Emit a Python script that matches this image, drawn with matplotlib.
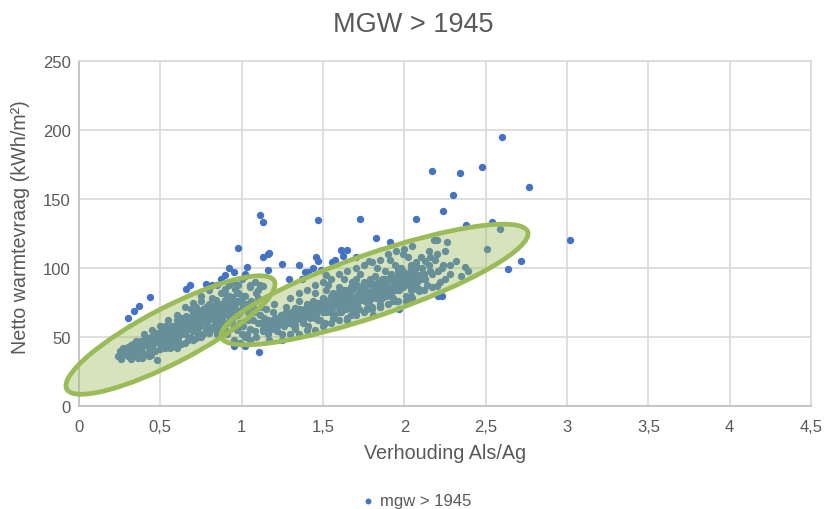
import matplotlib
matplotlib.use('Agg')
import matplotlib.pyplot as plt
from matplotlib.patches import Ellipse
from matplotlib.transforms import Affine2D

plt.rcParams['font.family'] = ['Liberation Sans', 'DejaVu Sans']

# points outside / on the edge of the dense band
outer_x = [2.60, 2.17, 2.34, 2.48, 2.765, 2.30, 2.24, 2.07, 1.73, 1.47, 1.11, 1.13,
           2.38, 2.54, 1.825, 3.02, 2.72, 2.635, 2.51, 2.59, 1.91, 0.98, 1.13, 1.16,
           1.17, 1.25, 1.35, 1.46, 1.47, 1.61, 1.65, 1.62, 1.575, 1.555, 1.16, 1.29,
           0.92, 1.03, 0.95, 1.02, 1.39, 1.41, 1.44, 1.49, 1.105, 2.23, 2.21, 0.436,
           0.37, 0.34, 0.30, 0.68, 0.66, 0.78, 0.90, 0.87, 1.02, 0.95, 1.02, 0.99,
           1.37, 1.52, 1.78, 1.70]
outer_y = [195, 170, 169, 173, 159, 153, 141, 135.5, 135.5, 135, 138.5, 133.5,
           131, 133, 122, 120, 105, 99, 114, 128, 119, 114.5, 108, 110,
           111, 103, 102, 108, 105, 113, 113, 109, 106, 104, 98.6, 92,
           100, 101, 97, 95.6, 97, 97, 100, 98.6, 39, 80, 80, 79,
           72.5, 69, 64, 88, 85, 88.6, 95, 92, 94, 43.5, 43.5, 46,
           92, 95, 105, 108]

# left band
band1_x = [.24, .25, .26, .27, .28, .29, .30, .31, .32, .33, .34, .35,
           .36, .37, .38, .39, .40, .41, .42, .43, .44, .45, .46, .47,
           .48, .49, .50, .51, .52, .53, .54, .55, .56, .57, .58, .59,
           .60, .61, .62, .63, .64, .65, .66, .67, .68, .69, .70, .71,
           .72, .73, .74, .75, .76, .77, .78, .79, .80, .81, .82, .83,
           .84, .85, .86, .87, .88, .89, .90, .91, .92, .93, .94, .95,
           .96, .97, .98, .99, 1.00, 1.01, 1.02, 1.03, 1.04, 1.05, 1.07, 1.09,
           .31, .33, .35, .37, .39, .41, .43, .45, .47, .49, .51, .53,
           .55, .57, .59, .61, .63, .65, .67, .69, .71, .73, .75, .77,
           .79, .81, .83, .85, .87, .89, .91, .93, .95, .97, .99, 1.01,
           .50, .52, .54, .56, .58, .60, .62, .64, .66, .68, .70, .72,
           .74, .76, .78, .80, .82, .84, .86, .88, .90, .92, .94, .96,
           .98, 1.00, 1.02, 1.04, 1.06, 1.08, 1.10, 1.12, 1.13, 1.15, 1.11, 1.14,
           .46, .53, .57, .60, .63, .66, .69, .72, .75, .78, .81, .84,
           .30, .32, .34, .36, .38, .40, .42, .44, .46, .48, .50, .52,
           .54, .56, .58, .60, .62, .64, .66, .68, .70, .72, .74, .76,
           .78, .80, .82, .84, .86, .88, .90, .92, .94, .96, .98, 1.00,
           .30, .32, .34, .36, .38, .40, .42, .44, .46, .48, .50, .52,
           .54, .56, .58, .60, .62, .64, .66, .68, .70, .72, .74, .76,
           .78, .80, .82, .84, .86, .88, .90, .92, .94, .96, .98, 1.00,
           .43, .45, .47, .49, .51, .53, .55, .57, .59, .61, .63, .65,
           .67, .69, .71, .73, .75, .77, .79, .81, .83, .85, .87, .89,
           .55, .60, .65, .70, .75, .80, .85, .90, .95, 1.00, .70, .75,
           .80, .85, .90, .95, 1.00, 1.05, 1.10, 1.05, 1.10, .60, .50, .45,
           .40, .65, .82, .92, .97, 1.08]
band1_y = [36, 40, 34, 42, 38, 39, 36, 41, 34, 45, 38, 43,
           35, 40, 47, 35, 44, 38, 49, 42, 37, 46, 52, 40,
           33, 50, 41, 43, 55, 47, 44, 52, 42, 58, 48, 46,
           62, 50, 55, 45, 60, 52, 65, 48, 58, 70, 54, 62,
           49, 66, 57, 76, 52, 63, 72, 58, 68, 56, 78, 62,
           72, 54, 66, 82, 60, 75, 68, 52, 80, 64, 72, 58,
           85, 66, 76, 60, 70, 80, 50, 74, 62, 86, 72, 82,
           42, 37, 47, 43, 39, 47, 36, 42, 50, 46, 48, 42,
           47, 50, 54, 47, 52, 58, 56, 62, 58, 53, 62, 67,
           62, 71, 58, 63, 70, 66, 60, 75, 65, 55, 68, 74,
           52, 48, 56, 50, 53, 44, 58, 53, 60, 50, 67, 57,
           68, 60, 56, 74, 67, 77, 58, 66, 85, 70, 78, 68,
           88, 58, 80, 68, 76, 90, 84, 72, 87, 78, 88, 64,
           48, 58, 45, 58, 64, 58, 61, 72, 66, 70, 64, 74,
           43, 40, 45, 41, 47, 44, 49, 45, 51, 47, 53, 49,
           55, 52, 58, 54, 60, 56, 63, 58, 65, 60, 67, 63,
           70, 64, 72, 66, 74, 68, 77, 70, 79, 73, 82, 75,
           38, 44, 39, 46, 42, 48, 44, 50, 46, 53, 48, 55,
           50, 57, 52, 59, 54, 62, 57, 64, 59, 67, 61, 70,
           62, 72, 65, 60, 70, 63, 73, 66, 62, 76, 69, 78,
           46, 49, 47, 51, 49, 53, 51, 55, 56, 58, 57, 60,
           60, 63, 62, 65, 64, 68, 67, 70, 69, 72, 71, 74,
           62, 66, 72, 75, 80, 84, 88, 82, 90, 92, 48, 50,
           53, 52, 55, 48, 52, 56, 60, 88, 78, 42, 58, 55,
           52, 46, 88, 88, 82, 68]

# right band
band2_x = [1.01, 1.03, 1.05, 1.07, 1.09, 1.11, 1.13, 1.15, 1.17, 1.19, 1.21, 1.23,
           1.25, 1.27, 1.29, 1.31, 1.33, 1.35, 1.37, 1.39, 1.41, 1.43, 1.45, 1.47,
           1.49, 1.51, 1.53, 1.55, 1.57, 1.59, 1.61, 1.63, 1.65, 1.67, 1.69, 1.71,
           1.73, 1.75, 1.77, 1.79, 1.81, 1.83, 1.85, 1.87, 1.89, 1.91, 1.93, 1.95,
           1.97, 1.99, 2.01, 2.03, 2.05, 2.07, 2.09, 2.11, 2.13, 2.15, 2.17, 2.19,
           1.08, 1.12, 1.16, 1.20, 1.22, 1.24, 1.26, 1.28, 1.30, 1.32, 1.34, 1.36,
           1.38, 1.40, 1.42, 1.44, 1.46, 1.48, 1.50, 1.52, 1.54, 1.56, 1.58, 1.60,
           1.62, 1.64, 1.66, 1.68, 1.70, 1.72, 1.74, 1.76, 1.78, 1.80, 1.82, 1.84,
           1.86, 1.88, 1.90, 1.92, 1.94, 1.96, 1.98, 2.00, 2.02, 2.04, 2.06, 2.08,
           1.18, 1.21, 1.24, 1.27, 1.30, 1.33, 1.36, 1.39, 1.42, 1.45, 1.48, 1.51,
           1.54, 1.57, 1.60, 1.63, 1.66, 1.69, 1.72, 1.75, 1.78, 1.81, 1.84, 1.87,
           1.90, 1.93, 1.96, 1.99, 2.02, 2.05, 2.08, 2.11, 2.14, 2.17, 2.20, 2.23,
           1.20, 1.25, 1.30, 1.35, 1.38, 1.41, 1.44, 1.47, 1.50, 1.53, 1.56, 1.59,
           1.62, 1.65, 1.68, 1.71, 1.74, 1.77, 1.80, 1.83, 1.86, 1.89, 1.92, 1.95,
           1.98, 2.01, 2.04, 2.07, 2.10, 2.13, 2.16, 2.18, 2.20, 2.22, 2.24, 2.26,
           1.52, 1.56, 1.60, 1.64, 1.68, 1.72, 1.76, 1.80, 1.84, 1.88, 1.92, 1.96,
           2.00, 2.04, 2.08, 2.12, 2.16, 2.21, 2.25, 2.28, 2.32, 2.35, 2.37, 2.39,
           1.14, 1.16, 1.18, 1.20, 1.22, 1.24, 1.26, 1.28, 1.30, 1.32, 1.34, 1.36,
           1.38, 1.40, 1.42, 1.44, 1.46, 1.48, 1.50, 1.52, 1.54, 1.56, 1.58, 1.60,
           1.62, 1.64, 1.66, 1.68, 1.70, 1.72, 1.74, 1.76, 1.78, 1.80, 1.82, 1.84,
           1.86, 1.88, 1.90, 1.92, 1.94, 1.96, 1.98, 2.00, 2.02, 2.04, 2.06, 2.08,
           1.15, 1.17, 1.19, 1.21, 1.23, 1.25, 1.27, 1.29, 1.31, 1.33, 1.35, 1.37,
           1.39, 1.41, 1.43, 1.45, 1.47, 1.49, 1.51, 1.53, 1.55, 1.57, 1.59, 1.61,
           1.63, 1.65, 1.67, 1.69, 1.71, 1.73, 1.75, 1.77, 1.79, 1.81, 1.83, 1.85,
           1.87, 1.89, 1.91, 1.93, 1.95, 1.97, 1.99, 2.01, 2.03, 2.05, 2.07, 2.09,
           1.13, 1.17, 1.21, 1.25, 1.29, 1.33, 1.37, 1.41, 1.45, 1.49, 1.53, 1.57,
           1.61, 1.65, 1.69, 1.73, 1.77, 1.81, 1.85, 1.89, 1.93, 1.97, 2.01, 2.05,
           1.25, 1.30, 1.35, 1.40, 1.45, 1.50, 1.55, 1.60, 1.65, 1.70, 1.75, 1.80,
           1.85, 1.90, 1.95, 2.05, 1.30, 1.35, 1.40, 1.45, 1.50, 1.55, 1.60, 1.65,
           1.70, 1.75, 1.80, 1.85, 1.90, 1.95, 2.00, 2.05, 2.10, 2.15, 2.20, 2.25,
           2.28, 2.12, 1.15, 1.20]
band2_y = [58, 52, 48, 62, 50, 66, 54, 60, 48, 68, 56, 64,
           52, 72, 60, 68, 56, 76, 62, 70, 58, 66, 82, 62,
           74, 60, 88, 70, 64, 82, 72, 92, 76, 66, 86, 74,
           96, 78, 70, 90, 82, 100, 74, 88, 80, 106, 78, 92,
           84, 110, 80, 96, 88, 104, 85, 100, 92, 112, 86, 106,
           54, 60, 52, 62, 54, 66, 58, 64, 62, 58, 70, 64,
           60, 74, 64, 72, 66, 62, 78, 68, 74, 64, 78, 72,
           84, 70, 80, 74, 92, 70, 84, 76, 82, 72, 94, 82,
           78, 98, 86, 80, 102, 76, 94, 88, 108, 84, 98, 92,
           58, 64, 61, 68, 65, 71, 68, 65, 72, 68, 74, 70,
           68, 76, 68, 80, 75, 68, 82, 86, 76, 88, 84, 80,
           92, 84, 98, 90, 92, 87, 90, 96, 88, 96, 120, 100,
           60, 60, 64, 66, 62, 68, 76, 72, 68, 75, 82, 76,
           78, 84, 70, 80, 86, 80, 88, 78, 92, 84, 96, 88,
           100, 90, 80, 96, 92, 105, 98, 120, 87, 90, 102, 119,
           84, 72, 86, 78, 90, 82, 88, 78, 86, 92, 84, 100,
           94, 102, 85, 96, 108, 98, 92, 102, 105, 94, 101, 98,
           58, 62, 56, 63, 58, 65, 60, 67, 62, 68, 63, 70,
           65, 71, 66, 73, 67, 75, 69, 76, 71, 78, 73, 80,
           75, 82, 77, 84, 78, 86, 80, 87, 81, 89, 83, 90,
           85, 92, 86, 94, 88, 95, 89, 97, 91, 99, 92, 101,
           62, 55, 60, 57, 64, 60, 66, 62, 68, 64, 67, 63,
           70, 66, 73, 68, 75, 70, 77, 72, 80, 74, 82, 76,
           84, 78, 86, 79, 88, 81, 90, 83, 92, 84, 78, 86,
           80, 88, 82, 90, 84, 92, 86, 94, 88, 96, 90, 83,
           56, 60, 63, 66, 62, 59, 63, 65, 64, 70, 74, 67,
           68, 62, 69, 77, 71, 66, 72, 80, 76, 70, 76, 85,
           48, 52, 52, 55, 55, 58, 60, 62, 64, 66, 68, 70,
           72, 74, 76, 78, 78, 82, 84, 88, 90, 92, 96, 98,
           100, 102, 104, 106, 110, 112, 114, 116, 108, 102, 110, 112,
           96, 84, 70, 74]

xticks = [0, 0.5, 1, 1.5, 2, 2.5, 3, 3.5, 4, 4.5]
xlabels = ['0', '0,5', '1', '1,5', '2', '2,5', '3', '3,5', '4', '4,5']
yticks = [0, 50, 100, 150, 200, 250]

fig = plt.figure(figsize=(8.27, 5.10), dpi=100)
ax = fig.add_axes([79 / 827., 1 - 407 / 510., 732 / 827., 345 / 510.])

ax.scatter(outer_x + band1_x + band2_x, outer_y + band1_y + band2_y, s=28,
           color='#4472C4', linewidths=0, zorder=3, label='mgw > 1945')

ax.set_xlim(0, 4.5)
ax.set_ylim(0, 250)
ax.set_xticks(xticks)
ax.set_xticklabels(xlabels)
ax.set_yticks(yticks)
ax.grid(True, color='#D9D9D9', linewidth=1.2)
ax.set_axisbelow(True)
ax.tick_params(length=0, labelsize=12, colors='#595959')
ax.tick_params(axis='x', pad=9)
ax.tick_params(axis='y', pad=6)
for s in ax.spines.values():
    s.set_color('#D9D9D9')
    s.set_linewidth(1.2)
ax.spines['left'].set_color('#BFBFBF')
ax.spines['bottom'].set_color('#BFBFBF')

ax.set_xlabel('Verhouding Als/Ag', fontsize=14.2, color='#595959', labelpad=7)
ax.set_ylabel('Netto warmtevraag (kWh/m²)', fontsize=14.2, color='#595959', labelpad=9, y=0.52)
fig.text(413 / 827., 1 - 25 / 510., 'MGW > 1945', fontsize=19.5, color='#595959',
         ha='center', va='center')

# the two hand drawn ellipses, placed in image pixels
px = Affine2D().scale(1, -1).translate(0, 510)
for center, w, h, ang in [((170.5, 336), 234, 55, -27.5), ((374.5, 285.5), 324, 62, -19)]:
    e = Ellipse(center, w, h, angle=ang, transform=px, facecolor=(0.608, 0.733, 0.349, 0.4),
                edgecolor='#9BBB59', linewidth=3.4, zorder=4, clip_on=False)
    ax.add_patch(e)

fig.legend(loc='center', bbox_to_anchor=(411.5 / 827., 1 - 502 / 510.), frameon=False,
           fontsize=12, labelcolor='#595959', handletextpad=-0.3, markerscale=0.8,
           borderpad=0)

fig.savefig('out.png', dpi=100)
